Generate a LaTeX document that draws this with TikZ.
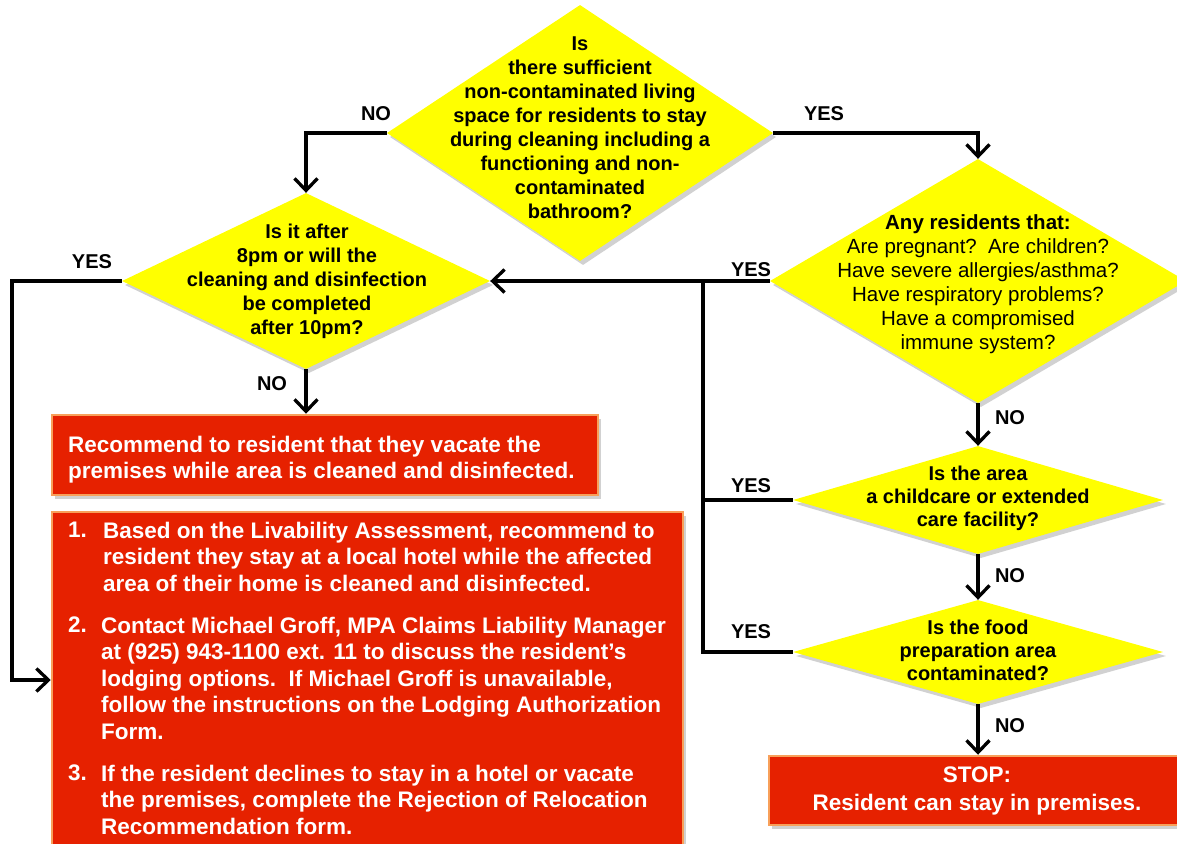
\documentclass[tikz,border=0pt]{standalone}
\usepackage{fontspec}
\setmainfont{Liberation Sans}
\usetikzlibrary{shapes.geometric,shadows,arrows.meta}
\definecolor{qyellow}{RGB}{255,255,0}
\definecolor{actred}{RGB}{230,33,0}
\definecolor{actedge}{RGB}{248,160,90}

\begin{document}
\begin{tikzpicture}[x=1pt,y=-1pt,
  decision/.style={diamond, fill=qyellow, inner sep=0pt,
    drop shadow={shadow xshift=3pt, shadow yshift=-4pt, opacity=0.18, fill=black}},
  qtext/.style={font=\bfseries\fontsize{20}{24}\selectfont, align=center, inner sep=0pt},
  action/.style={rectangle, fill=actred, draw=actedge, line width=2.5pt, inner sep=0pt,
    drop shadow={shadow xshift=3pt, shadow yshift=-4pt, opacity=0.18, fill=black}},
  atext/.style={font=\bfseries\fontsize{22.5}{26.5}\selectfont, text=white, align=left, inner sep=0pt},
  answer/.style={font=\bfseries\fontsize{20}{24}\selectfont, inner sep=0pt},
  link/.style={line width=3.3pt},
  flow/.style={link, -{Straight Barb[length=12pt, width=23pt]}}
]
\fill[white] (0,0) rectangle (1177,843);
\useasboundingbox (0,0) rectangle (1177,843);
\clip (0,0) rectangle (1177,843);

% decisions
\node[decision, minimum width=386, minimum height=256] (d1) at (580,133) {};
\node[qtext] (d1t) at (580,128) {Is\\there sufficient\\non-contaminated living\\space for residents to stay\\during cleaning including a\\functioning and non-\\contaminated\\bathroom?};

\node[decision, minimum width=368, minimum height=176] (d2) at (306,281) {};
\node[qtext] (d2t) at (307,281) {Is it after\\8pm or will the\\cleaning and disinfection\\be completed\\after 10pm?};

\node[decision, minimum width=416, minimum height=244] (d3) at (978,281) {};
\node[qtext, font=\fontsize{20.5}{24}\selectfont] (d3t) at (978,284) {{\bfseries Any residents that:}\\Are pregnant?\ \ Are children?\\Have severe allergies/asthma?\\Have respiratory problems?\\Have a compromised\\immune system?};

\node[decision, minimum width=370, minimum height=108] (d4) at (978,500) {};
\node[qtext, font=\bfseries\fontsize{20}{23}\selectfont] (d4t) at (978,498) {Is the area\\a childcare or extended\\care facility?};

\node[decision, minimum width=370, minimum height=104] (d5) at (978,652) {};
\node[qtext, font=\bfseries\fontsize{20}{23}\selectfont] (d5t) at (978,650) {Is the food\\preparation area\\contaminated?};

% actions
\node[action, minimum width=546, minimum height=80] (rec) at (325,455) {};
\node[atext, anchor=north west] (rect) at (68,435.5) {Recommend to resident that they vacate the\\premises while area is cleaned and disinfected.};

\node[action, minimum width=631, minimum height=336] (plan) at (367.5,680) {};
\node[atext, anchor=north west] (p1n) at (68,521.5) {1.};
\node[atext, anchor=north west] (p1t) at (103,521.5) {Based on the Livability Assessment, recommend to\\resident they stay at a local hotel while the affected\\area of their home is cleaned and disinfected.};
\node[atext, anchor=north west] (p2n) at (68,616.5) {2.};
\node[atext, anchor=north west] (p2t) at (101,616.5) {Contact Michael Groff, MPA Claims Liability Manager\\at (925) 943-1100 ext. 11 to discuss the resident’s\\lodging options.\ \ If Michael Groff is unavailable,\\follow the instructions on the Lodging Authorization\\Form.};
\node[atext, anchor=north west] (p3n) at (68,764.5) {3.};
\node[atext, anchor=north west] (p3t) at (101,764.5) {If the resident declines to stay in a hotel or vacate\\the premises, complete the Rejection of Relocation\\Recommendation form.};

\node[action, minimum width=418, minimum height=69] (stop) at (978,790.5) {};
\node[atext, align=center, font=\bfseries\fontsize{22.5}{28}\selectfont] (stopt) at (977,791) {STOP:\\Resident can stay in premises.};

% connectors
\draw[flow] (d1.west) -| (d2.north);
\draw[flow] (d1.east) -| (d3.north);
\draw[flow] (d3.west) -- (d2.east);
\coordinate (split) at (703,281);
\draw[link] (d4.west) -- (d4.west -| split);
\draw[link] (d5.west) -| (split);
\draw[flow] (d2.south) -- (d2.south |- rec.north);
\coordinate (rail) at (12,281);
\draw[flow] (d2.west) -- (rail) |- (plan.west);
\draw[flow] (d3.south) -- (d4.north);
\draw[flow] (d4.south) -- (d5.north);
\draw[flow] (d5.south) -- (d5.south |- stop.north);

% answers
\node[answer] (a1) at (376,114) {NO};
\node[answer] (a2) at (824,114) {YES};
\node[answer] (a3) at (92,262) {YES};
\node[answer] (a4) at (272,384) {NO};
\node[answer] (a5) at (751,270) {YES};
\node[answer] (a6) at (1010,418) {NO};
\node[answer] (a7) at (751,486) {YES};
\node[answer] (a8) at (1010,576) {NO};
\node[answer] (a9) at (751,632) {YES};
\node[answer] (a10) at (1010,726) {NO};
\end{tikzpicture}
\end{document}
